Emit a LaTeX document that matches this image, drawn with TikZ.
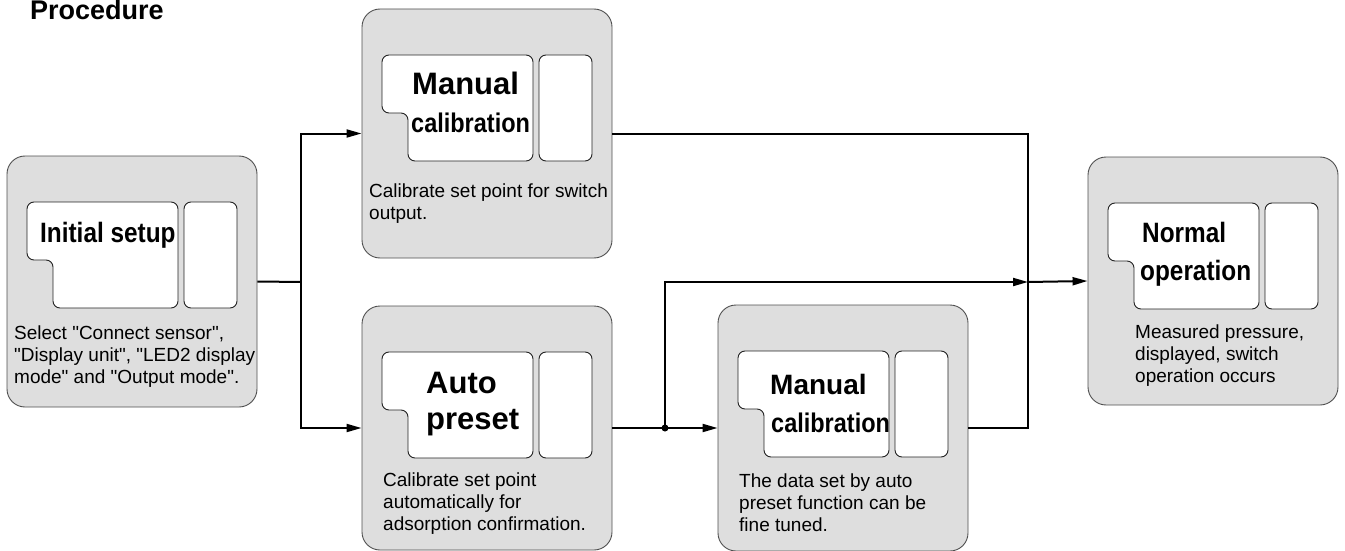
\documentclass[tikz,border=0pt]{standalone}
\usepackage{fontspec}
\setmainfont{Liberation Sans}[Ligatures=TeXOff]
\newfontfamily\narrowb[FakeStretch=0.87]{Liberation Sans}
\usetikzlibrary{arrows.meta}
\definecolor{panelfill}{HTML}{DEDEDE}
\definecolor{paneledge}{HTML}{505050}
\definecolor{inneredge}{HTML}{222222}
\newcommand\drawpanel[4]{%
  \node[panel, minimum height=#4pt] (#1) at ({#2+125},{#3+#4/2}) {};
  \draw[innerbox] ({#2+95},{#3+46}) -- ({#2+171},{#3+46}) -- ({#2+171},{#3+152}) -- ({#2+46},{#3+152}) -- ({#2+46},{#3+104}) -- ({#2+20},{#3+104}) -- ({#2+20},{#3+46}) -- cycle;
  \draw[innerbox] ({#2+177},{#3+46}) rectangle ({#2+230},{#3+152});
}
\tikzset{
  panel/.style={draw=paneledge, fill=panelfill, line width=0.9pt, rounded corners=18pt, minimum width=250pt, inner sep=0pt},
  innerbox/.style={draw=inneredge, fill=white, line width=0.9pt, rounded corners=7pt},
  conn/.style={line width=2pt, black},
  arr/.style={conn, -{Triangle[length=15pt,width=8pt]}},
  desc/.style={anchor=north west, inner sep=0pt, align=left, font=\fontsize{19}{22}\selectfont},
  wtitle/.style={anchor=base west, inner sep=0pt, font=\fontsize{#1}{#1}\selectfont\bfseries},
  ntitle/.style={anchor=base west, inner sep=0pt, font=\fontsize{#1}{#1}\selectfont\narrowb\bfseries},
}
\begin{document}
\begin{tikzpicture}[x=1pt,y=-1pt]
\useasboundingbox (0,0) rectangle (1345,551);
\node[wtitle=27] (proc) at (30,20) {Procedure};

\drawpanel{b1}{7}{156}{251}
\drawpanel{b2}{362}{9}{249}
\drawpanel{b3}{362}{306}{244}
\drawpanel{b4}{718}{305}{246}
\drawpanel{b5}{1088}{157}{248}

% titles
\node[ntitle=28] (t1) at (40,242) {Initial setup};
\node[wtitle=31] (t2a) at (412,95) {Manual};
\node[ntitle=27] (t2b) at (411,132) {calibration};
\node[wtitle=31] (t3a) at (426,393) {Auto};
\node[wtitle=31] (t3b) at (426,429) {preset};
\node[wtitle=28] (t4a) at (770,394) {Manual};
\node[ntitle=27] (t4b) at (771,432) {calibration};
\node[ntitle=28] (t5a) at (1142,242) {Normal};
\node[ntitle=28] (t5b) at (1140,280) {operation};

% descriptions
\node[desc] (d1) at (14,323.6) {\strut Select "Connect sensor",\\"Display unit", "LED2 display\\mode" and "Output mode".};
\node[desc] (d2) at (369,181.6) {\strut Calibrate set point for switch\\output.};
\node[desc] (d3) at (383,470.6) {\strut Calibrate set point\\automatically for\\adsorption confirmation.};
\node[desc] (d4) at (739,471.6) {\strut The data set by auto\\preset function can be\\fine tuned.};
\node[desc] (d5) at (1135,322.6) {\strut Measured pressure,\\displayed, switch\\operation occurs};

% connectors
\coordinate (split) at (301,282);
\coordinate (dot) at (665,428);
\coordinate (cross) at (1028,282);
\coordinate (join) at (1028,428);
\draw[conn] (b1.east) -- (split);
\draw[arr] (split) |- (b2.west);
\draw[arr] (split) |- (b3.west);
\draw[conn] (b2.east) -| (join) -- (b4.east);
\draw[conn] (b3.east) -- (dot);
\draw[arr] (dot) -- (b4.west);
\draw[arr] (dot) |- (cross);
\draw[arr] (cross) -- (b5.west);
\fill (dot) circle (3.5pt);
\end{tikzpicture}
\end{document}
